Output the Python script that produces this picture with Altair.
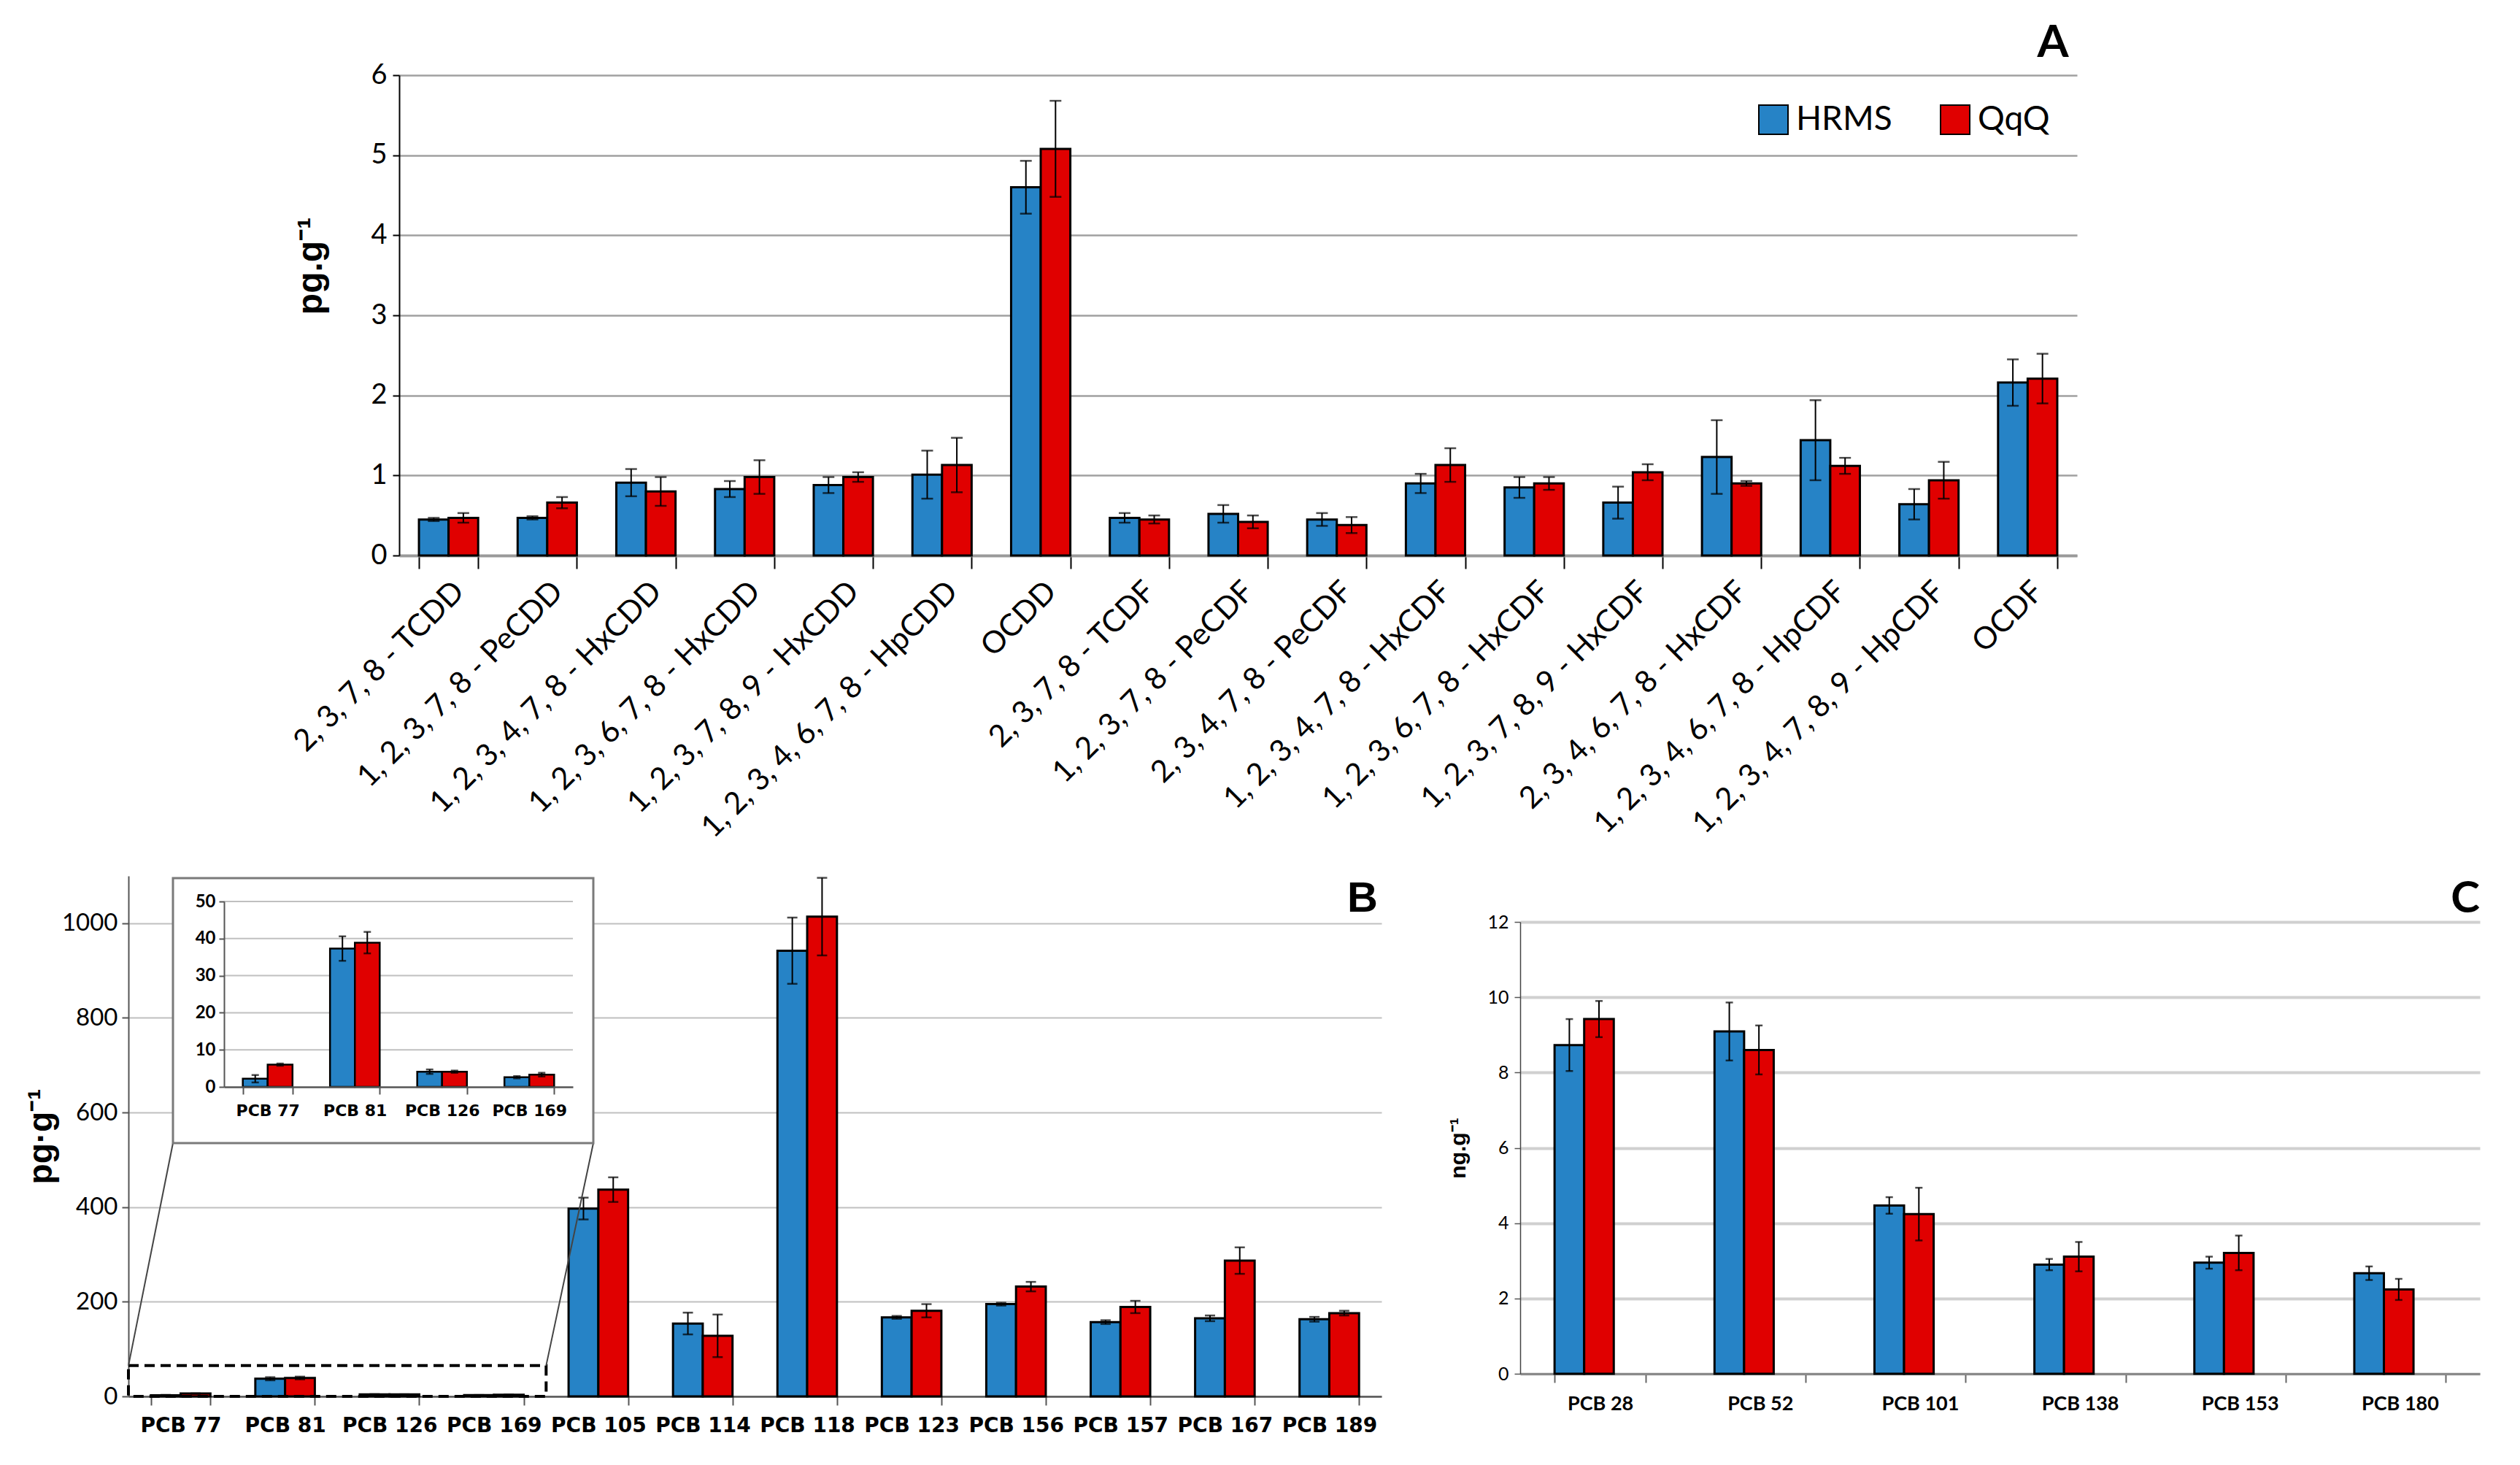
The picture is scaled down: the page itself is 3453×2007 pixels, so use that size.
import altair as alt
import pandas as pd

METHODS = ["HRMS", "QqQ"]
COLORS = ["#2683C6", "#E00000"]
FN = "Lato, sans-serif"
FB = "Liberation Sans, sans-serif"
FD = "DejaVu Sans, sans-serif"

# ---------------- Panel A data (pg.g-1) ----------------
A_CATS = ["2, 3, 7, 8 - TCDD", "1, 2, 3, 7, 8 - PeCDD", "1, 2, 3, 4, 7, 8 - HxCDD",
          "1, 2, 3, 6, 7, 8 - HxCDD", "1, 2, 3, 7, 8, 9 - HxCDD", "1, 2, 3, 4, 6, 7, 8 - HpCDD",
          "OCDD", "2, 3, 7, 8 - TCDF", "1, 2, 3, 7, 8 - PeCDF", "2, 3, 4, 7, 8 - PeCDF",
          "1, 2, 3, 4, 7, 8 - HxCDF", "1, 2, 3, 6, 7, 8 - HxCDF", "1, 2, 3, 7, 8, 9 - HxCDF",
          "2, 3, 4, 6, 7, 8 - HxCDF", "1, 2, 3, 4, 6, 7, 8 - HpCDF", "1, 2, 3, 4, 7, 8, 9 - HpCDF",
          "OCDF"]
A_HRMS = [0.45, 0.47, 0.91, 0.83, 0.88, 1.01, 4.60, 0.47, 0.52, 0.45, 0.90, 0.85, 0.66, 1.23, 1.44, 0.64, 2.16]
A_HRMS_SD = [0.02, 0.02, 0.17, 0.10, 0.10, 0.30, 0.33, 0.06, 0.11, 0.08, 0.12, 0.13, 0.20, 0.46, 0.50, 0.19, 0.29]
A_QQQ = [0.47, 0.66, 0.80, 0.98, 0.98, 1.13, 5.08, 0.45, 0.42, 0.38, 1.13, 0.90, 1.04, 0.90, 1.12, 0.94, 2.21]
A_QQQ_SD = [0.06, 0.07, 0.18, 0.21, 0.06, 0.34, 0.60, 0.05, 0.08, 0.10, 0.21, 0.08, 0.10, 0.03, 0.10, 0.23, 0.31]
A_TICKS = [0, 1, 2, 3, 4, 5, 6]

# ---------------- Panel B data (pg.g-1) ----------------
B_CATS = ["PCB 77", "PCB 81", "PCB 126", "PCB 169", "PCB 105", "PCB 114",
          "PCB 118", "PCB 123", "PCB 156", "PCB 157", "PCB 167", "PCB 189"]
B_HRMS = [2.2, 37.3, 4.1, 2.6, 397, 154, 942, 167, 195, 157, 165, 163]
B_HRMS_SD = [1.0, 3.3, 0.6, 0.3, 23, 23, 70, 3, 3, 4, 6, 5]
B_QQQ = [6.0, 38.9, 4.1, 3.3, 437, 128, 1014, 181, 232, 189, 287, 176]
B_QQQ_SD = [0.3, 2.9, 0.3, 0.5, 26, 45, 82, 14, 10, 13, 28, 5]
B_TICKS = [0, 200, 400, 600, 800, 1000]
B_ZOOM_TOP = 65
INSET_N = 4
INSET_TICKS = [0, 10, 20, 30, 40, 50]
INSET_GRID = [10, 20, 30, 40, 50]

# ---------------- Panel C data (ng.g-1) ----------------
C_CATS = ["PCB 28", "PCB 52", "PCB 101", "PCB 138", "PCB 153", "PCB 180"]
C_HRMS = [8.73, 9.09, 4.47, 2.90, 2.95, 2.67]
C_HRMS_SD = [0.69, 0.77, 0.22, 0.15, 0.16, 0.18]
C_QQQ = [9.42, 8.60, 4.24, 3.11, 3.21, 2.24]
C_QQQ_SD = [0.48, 0.65, 0.70, 0.39, 0.46, 0.28]
C_TICKS = [0, 2, 4, 6, 8, 10, 12]

# ---------------- layout (pixels) ----------------
AW, AH = 2299, 658
BW, BH = 1717, 713
CW, CH = 1315, 619
BOX = dict(x=61, x2=637, y=3, y2=366)
INSET_X = [131, 609]
INSET_Y = [289, 35]


def make_df(cats, h, hs, q, qs):
    rows = []
    for c, v, e in zip(cats, h, hs):
        rows.append(dict(cat=c, method="HRMS", value=v, lo=v - e, hi=v + e))
    for c, v, e in zip(cats, q, qs):
        rows.append(dict(cat=c, method="QqQ", value=v, lo=v - e, hi=v + e))
    return pd.DataFrame(rows)


def bar_layers(df, cats, xscale, xaxis, yscale, yaxis, ytitle, bar_sw, cap_size, legend):
    base = alt.Chart(df)
    x = alt.X("cat:N", sort=cats, scale=xscale, axis=xaxis, title=None)
    xo = alt.XOffset("method:N", sort=METHODS, scale=alt.Scale(paddingInner=0, paddingOuter=0))

    def Y(f):
        return alt.Y(f + ":Q", scale=yscale, axis=yaxis, title=ytitle)

    bars = base.mark_bar(stroke="black", strokeWidth=bar_sw).encode(
        x=x, xOffset=xo, y=Y("value"),
        color=alt.Color("method:N", scale=alt.Scale(domain=METHODS, range=COLORS), legend=legend))
    rule = base.mark_rule(color="black", strokeWidth=2).encode(
        x=x, xOffset=xo, y=Y("lo"), y2=alt.Y2("hi"))
    caplo = base.mark_tick(color="black", thickness=2.5, size=cap_size).encode(x=x, xOffset=xo, y=Y("lo"))
    caphi = base.mark_tick(color="black", thickness=2.5, size=cap_size).encode(x=x, xOffset=xo, y=Y("hi"))
    return [bars, rule, caplo, caphi]


def label(txt, x, y, size, font):
    return alt.Chart(pd.DataFrame({"t": [txt]})).mark_text(
        text=txt, font=font, fontSize=size, fontWeight="bold", color="black",
        align="center", baseline="middle").encode(x=alt.value(x), y=alt.value(y))


# ---------------- Panel A ----------------
dfA = make_df(A_CATS, A_HRMS, A_HRMS_SD, A_QQQ, A_QQQ_SD)
xA = alt.Axis(labelAngle=-45, labelFont=FN, labelFontSize=42, labelColor="black", labelLimit=800,
              tickBand="extent", tickSize=18, tickColor="black", tickWidth=2,
              domainColor="#9a9a9a", domainWidth=4, labelPadding=10, grid=False)
yA = alt.Axis(values=A_TICKS, labelFont=FN, labelFontSize=38, labelColor="black", labelPadding=8,
              tickSize=9, tickColor="black", tickWidth=2, domainColor="black", domainWidth=2,
              gridColor="#a0a0a0", gridWidth=2.5,
              titleFont=FB, titleFontSize=48, titleFontWeight="bold", titleColor="black",
              titlePadding=57, titleY=261)
legA = alt.Legend(orient="none", legendX=1860, legendY=38, direction="horizontal", title=None,
                  symbolType="square", symbolSize=1600, symbolStrokeColor="black", symbolStrokeWidth=2,
                  labelFont=FN, labelFontSize=46, labelColor="black", columnPadding=62, labelOffset=8)
layersA = bar_layers(dfA, A_CATS, alt.Scale(paddingInner=0.4, paddingOuter=0.2), xA,
                     alt.Scale(domain=[0, 6]), yA, "pg.g⁻¹", 3, 16, legA)
chartA = alt.layer(*layersA, label("A", 2266, -44, 62, FN)).properties(width=AW, height=AH)

# ---------------- Panel B (main) ----------------
dfB = make_df(B_CATS, B_HRMS, B_HRMS_SD, B_QQQ, B_QQQ_SD)
xB = alt.Axis(labelAngle=0, labelFont=FD, labelFontSize=28, labelFontWeight="bold", labelColor="black",
              tickBand="extent", tickSize=12, tickColor="#555", tickWidth=2,
              domainColor="#555", domainWidth=2.5, labelPadding=14, grid=False)
yBscale = alt.Scale(domain=[0, 1100])
yB = alt.Axis(values=B_TICKS, format="d", labelFont=FN, labelFontSize=33, labelColor="black", labelPadding=6,
              tickSize=9, tickColor="#555", tickWidth=2, domainColor="#555", domainWidth=2,
              gridColor="#c0c0c0", gridWidth=2,
              titleFont=FB, titleFontSize=46, titleFontWeight="bold", titleColor="black", titlePadding=4)
B_TITLE = "pg·g⁻¹"
layersB = bar_layers(dfB, B_CATS, alt.Scale(paddingInner=0.43, paddingOuter=0.215), xB,
                     yBscale, yB, B_TITLE, 3, 14, None)
step_b = BW / len(B_CATS)
zoom_df = pd.DataFrame({"top": [B_ZOOM_TOP], "bot": [0]})
zoom_rect = alt.Chart(zoom_df).mark_rect(fillOpacity=0, stroke="black", strokeWidth=4,
                                         strokeDash=[14, 8]).encode(
    x=alt.value(0), x2=alt.value(INSET_N * step_b),
    y=alt.Y("top:Q", scale=yBscale, axis=yB, title=B_TITLE), y2=alt.Y2("bot"))
conn1 = alt.Chart(zoom_df).mark_rule(color="#444", strokeWidth=2).encode(
    x=alt.value(0), x2=alt.value(BOX["x"]),
    y=alt.Y("top:Q", scale=yBscale, axis=yB, title=B_TITLE), y2=alt.value(BOX["y2"]))
conn2 = alt.Chart(zoom_df).mark_rule(color="#444", strokeWidth=2).encode(
    x=alt.value(INSET_N * step_b), x2=alt.value(BOX["x2"]),
    y=alt.Y("top:Q", scale=yBscale, axis=yB, title=B_TITLE), y2=alt.value(BOX["y2"]))
mainB = alt.layer(*layersB, zoom_rect, conn1, conn2, label("B", 1691, 32, 58, FB))

# ---------------- Panel B (inset) ----------------
IN_CATS = B_CATS[:INSET_N]
dfI = make_df(IN_CATS, B_HRMS[:INSET_N], B_HRMS_SD[:INSET_N], B_QQQ[:INSET_N], B_QQQ_SD[:INSET_N])
ixscale = alt.Scale(domain=IN_CATS, range=INSET_X, paddingInner=0.43, paddingOuter=0.215)
iyscale = alt.Scale(domain=[0, 50], range=INSET_Y)
ixA = alt.Axis(orient="bottom", offset=-(BH - INSET_Y[0]), labelAngle=0, labelFont=FD, labelFontSize=22,
               labelFontWeight="bold", labelColor="black", tickBand="extent", tickSize=10,
               tickColor="#555", tickWidth=2, domainColor="#555", domainWidth=2.5, labelPadding=12,
               grid=False, zindex=2)
iyA = alt.Axis(orient="left", offset=-INSET_X[0], values=INSET_TICKS, labelFont=FN, labelFontSize=24,
               labelFontWeight="bold", labelColor="black", tickSize=7, tickColor="#555", tickWidth=2,
               domainColor="#555", domainWidth=2, labelPadding=5, grid=False, zindex=2)
box = alt.Chart(pd.DataFrame({"t": [0]})).mark_rect(fill="white", stroke="#7a7a7a", strokeWidth=3).encode(
    x=alt.value(BOX["x"]), x2=alt.value(BOX["x2"]), y=alt.value(BOX["y"]), y2=alt.value(BOX["y2"]))
igrid = alt.Chart(pd.DataFrame({"g": INSET_GRID})).mark_rule(color="#c0c0c0", strokeWidth=2).encode(
    y=alt.Y("g:Q", scale=iyscale, axis=iyA, title=None),
    x=alt.value(INSET_X[0]), x2=alt.value(INSET_X[1]))
layersI = bar_layers(dfI, IN_CATS, ixscale, ixA, iyscale, iyA, None, 2.5, 10, None)
insetB = alt.layer(box, igrid, *layersI)

chartB = alt.layer(mainB, insetB).resolve_scale(
    x="independent", y="independent", xOffset="independent").resolve_axis(
    x="independent", y="independent").properties(width=BW, height=BH)

# ---------------- Panel C ----------------
dfC = make_df(C_CATS, C_HRMS, C_HRMS_SD, C_QQQ, C_QQQ_SD)
xC = alt.Axis(labelAngle=0, labelFont=FN, labelFontSize=27, labelFontWeight="bold", labelColor="black",
              tickBand="extent", tickSize=12, tickColor="#666", tickWidth=2,
              domainColor="#8a8a8a", domainWidth=3, labelPadding=16, grid=False)
yC = alt.Axis(values=C_TICKS, labelFont=FN, labelFontSize=25, labelColor="black", labelPadding=8,
              tickSize=8, tickColor="#555", tickWidth=1.5, domainColor="#444", domainWidth=1.5,
              gridColor="#d0d0d0", gridWidth=4,
              titleFont=FB, titleFontSize=30, titleFontWeight="bold", titleColor="black", titlePadding=24)
layersC = bar_layers(dfC, C_CATS, alt.Scale(paddingInner=0.43, paddingOuter=0.215), xC,
                     alt.Scale(domain=[0, 12]), yC, "ng.g⁻¹", 3, 10, None)
chartC = alt.layer(*layersC, label("C", 1295, -31, 60, FN)).properties(width=CW, height=CH)


# ---------------- assembly ----------------
def spacer(w, h):
    return alt.Chart(pd.DataFrame({"t": [0]})).mark_point(opacity=0).encode(
        x=alt.value(0), y=alt.value(0)).properties(width=w, height=h)


rowA = alt.hconcat(spacer(371, 1), chartA, spacing=0, bounds="flush").resolve_scale(color="independent")
colC = alt.vconcat(spacer(1, 63), chartC, spacing=0, bounds="flush").resolve_scale(color="independent")
rowBC = alt.hconcat(chartB, colC, spacing=190, bounds="flush").resolve_scale(color="independent")
chart = alt.vconcat(rowA, rowBC, spacing=AH + 439, bounds="flush").resolve_scale(
    color="independent").configure_view(strokeWidth=0).properties(
    padding={"left": 25, "top": 20, "right": 5, "bottom": 5}, background="white")

chart.save("out.html", embed_options={"renderer": "svg", "actions": False})
